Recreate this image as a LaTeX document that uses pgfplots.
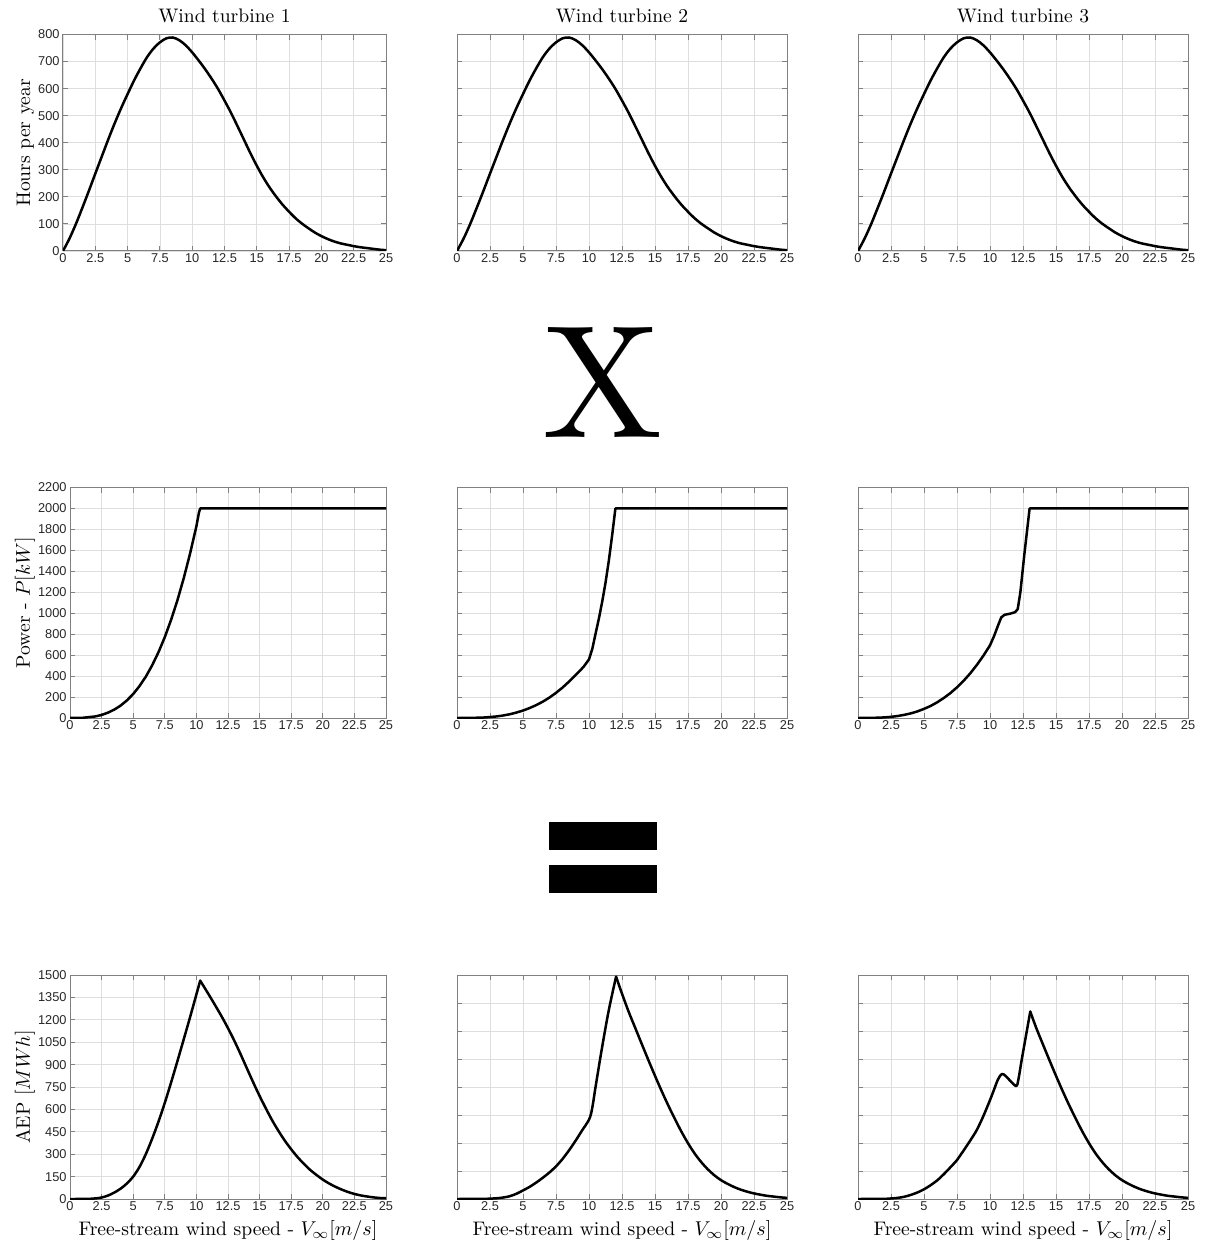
\documentclass[border=0pt]{standalone}
\usepackage{fontspec}
\usepackage{pgfplots}
\usepackage{pgfplotstable}
\pgfplotsset{compat=1.18}
\newfontfamily\tickfont{Liberation Sans}
\newfontfamily\bigfont{lmroman10-regular}[Extension=.otf]

% Hours per year at each free-stream wind speed (same site for all turbines)
\pgfplotstableread{
v h
0 0
0.5 46
1 100
1.5 160
2 222
2.5 286
3 349
3.5 412
4 472
4.5 528
5 580
5.5 630
6 675
6.5 716
7 748
7.5 771
8 786
8.5 789
9 779
9.5 760
10 734
10.5 704
11 672
11.5 637
12 599
12.5 556
13 511
13.5 462
14 412
14.5 362
15 315
15.5 272
16 234
16.5 201
17 171
17.5 145
18 121
18.5 101
19 84
19.5 68
20 55
20.5 44
21 35
21.5 28
22 23
22.5 18
23 14
23.5 11
24 8
24.5 5
25 3
}\hours

% Power curves [kW]
\pgfplotstableread{
v p
0 0
1 2
2 15
2.5 29
3 51
3.5 80
4 118
4.5 168
5 229
5.5 305
6 395
6.5 503
7 628
7.5 772
8 938
8.5 1124
9 1335
9.5 1570
10 1830
10.2 1960
10.3 2000
25 2000
}\powA
\pgfplotstableread{
v p
0 0
1 0.6
2 4.5
2.5 9
3 15
3.5 24
4 36
4.5 52
5 71
5.5 95
6 123
6.5 156
7 195
7.5 240
8 291
8.5 349
9 412
9.3 450
9.6 490
10 560
10.25 660
10.5 806
10.75 950
11 1110
11.25 1290
11.5 1500
11.75 1740
12 2000
25 2000
}\powB
\pgfplotstableread{
v p
0 0
1 0.7
2 5.6
2.5 11
3 19
3.5 30
4 44
4.5 63
5 87
5.5 115
6 150
6.5 191
7 238
7.5 293
8 355
8.5 426
9 506
9.5 595
10 694
10.3 780
10.6 880
10.85 960
11.1 985
11.5 995
11.9 1010
12.1 1040
12.3 1200
12.6 1560
13 2000
25 2000
}\powC

% Annual energy production [MWh], split at the rated-speed peak
\pgfplotstableread{
v e
0 0
1 0.3
1.5 1
2 4
2.5 10
3 23
3.5 43
4 69
4.5 104
5 150
5.5 215
6 301
6.5 404
7 518
7.5 644
8 781
8.5 924
9 1070
9.5 1218
10 1370
10.3 1462
}\aepAup
\pgfplotstableread{
v e
10.3 1462
10.5 1435
11 1366
11.5 1295
12 1222
12.5 1144
13 1060
13.5 969
14 874
14.5 780
15 690
15.5 606
16 526
16.5 455
17 390
17.5 333
18 281
18.5 236
19 195
19.5 161
20 130
20.5 104
21 82
21.5 63
22 47
22.5 34
23 24
23.5 17
24 11
24.5 7
25 5
}\aepAdown
\pgfplotstableread{
v e
0 0
2 1
2.5 2
3 4
3.5 8
4 15
4.5 28
5 46
5.5 65
6 88
6.5 114
7 142
7.5 175
8 215
8.5 262
9 314
9.25 342
9.5 370
9.75 396
10 425
10.15 455
10.3 510
10.5 602
11 816
11.5 1012
12.05 1191
}\aepBup
\pgfplotstableread{
v e
12.05 1191
12.5 1100
13 1004
13.5 917
14 830
14.5 744
15 660
15.5 579
16 502
16.5 430
17 361
17.5 299
18 244
18.5 198
19 159
19.5 127
20 101
20.5 81
21 64
21.5 50
22 39
22.5 30
23 23
23.5 17
24 13
24.5 9
25 6
}\aepBdown
\pgfplotstableread{
v e
0 0
2 1
2.5 3
3 6
3.5 12
4 22
4.5 35
5 52
5.5 74
6 100
6.5 133
7 170
7.5 209
8 260
8.5 313
9 370
9.5 445
10 530
10.3 585
10.6 640
10.9 670
11.2 658
11.6 628
12.0 605
12.15 640
12.4 745
12.7 865
13.05 1004
}\aepCup
\pgfplotstableread{
v e
13.05 1004
13.5 917
14 830
14.5 744
15 660
15.5 579
16 502
16.5 430
17 361
17.5 299
18 244
18.5 198
19 159
19.5 127
20 101
20.5 81
21 64
21.5 50
22 39
22.5 30
23 23
23.5 17
24 13
24.5 9
25 6
}\aepCdown

\pgfplotsset{
  turbine/.style={
    scale only axis,
    anchor=south west,
    xmin=0, xmax=25,
    xtick={0,2.5,5,7.5,10,12.5,15,17.5,20,22.5,25},
    xticklabels={0,2.5,5,7.5,10,12.5,15,17.5,20,22.5,25},
    grid=major,
    major grid style={black!13, line width=0.4pt},
    axis line style={black!50, line width=0.5pt},
    tick align=inside,
    major tick length=2.5pt,
    major tick style={black!50, line width=0.5pt},
    ticklabel style={font=\tickfont\fontsize{6.4}{7}\selectfont, text=black!85},
    xticklabel style={inner sep=1.2pt},
    yticklabel style={inner sep=1.5pt},
    /pgf/number format/assume math mode=true,
    /pgf/number format/1000 sep={},
    scaled y ticks=false,
    every axis title/.style={at={(0.5,1)}, anchor=base, yshift=6.25pt,
      font=\fontsize{9.8}{11}\selectfont},
    label style={font=\fontsize{9.8}{11}\selectfont},
    every axis plot/.append style={black, no markers, line width=1.25pt,
      line join=round, line cap=round},
  },
  rowA/.style={turbine, height=108.25pt, ymin=0, ymax=800, ytick={0,100,...,800}},
  rowB/.style={turbine, height=115.25pt, ymin=0, ymax=2200, ytick={0,200,...,2200}},
  rowC/.style={turbine, height=112pt, ymin=0},
  noy/.style={yticklabels={}},
  xlab/.style={xlabel={Free-stream wind speed - $V_\infty[m/s]$},
    xlabel style={at={(axis description cs:0.5,0)}, anchor=base, yshift=-18pt}},
}

\begin{document}
\begin{tikzpicture}
\path[use as bounding box] (0,0) rectangle (602.5pt,-623.5pt);

% Row 1: wind distribution
\begin{axis}[rowA, at={(31.5pt,-125.5pt)}, width=161.5pt, title={Wind turbine 1},
  ylabel={Hours per year}, ylabel style={at={(axis description cs:-0.102,0.5)}, anchor=base}]
\addplot[smooth] table[x=v,y=h] {\hours};
\end{axis}
\begin{axis}[rowA, noy, at={(228.5pt,-125.5pt)}, width=165pt, title={Wind turbine 2}]
\addplot[smooth] table[x=v,y=h] {\hours};
\end{axis}
\begin{axis}[rowA, noy, at={(429pt,-125.5pt)}, width=165pt, title={Wind turbine 3}]
\addplot[smooth] table[x=v,y=h] {\hours};
\end{axis}

\node[anchor=base, font=\bigfont\fontsize{80.5}{80}\selectfont, inner sep=0pt] at (301.25pt,-218.5pt) {X};

% Row 2: power curves
\begin{axis}[rowB, at={(35pt,-359pt)}, width=158pt,
  ylabel={Power - $P[kW]$}, ylabel style={at={(axis description cs:-0.1266,0.5)}, anchor=base}]
\addplot[sharp plot] table[x=v,y=p] {\powA};
\end{axis}
\begin{axis}[rowB, noy, at={(228.5pt,-359pt)}, width=165pt]
\addplot[sharp plot] table[x=v,y=p] {\powB};
\end{axis}
\begin{axis}[rowB, noy, at={(429pt,-359pt)}, width=165pt]
\addplot[sharp plot] table[x=v,y=p] {\powC};
\end{axis}

\fill[black] (274.5pt,-411pt) rectangle (328.5pt,-425pt);
\fill[black] (274.5pt,-432.5pt) rectangle (328.5pt,-446.5pt);

% Row 3: annual energy production
\begin{axis}[rowC, xlab, at={(35pt,-599.5pt)}, width=158pt, ymax=1500, ytick={0,150,...,1500},
  ylabel={AEP $[MWh]$}, ylabel style={at={(axis description cs:-0.1266,0.5)}, anchor=base}]
\addplot[smooth] table[x=v,y=e] {\aepAup};
\addplot[smooth] table[x=v,y=e] {\aepAdown};
\end{axis}
\begin{axis}[rowC, xlab, noy, at={(228.5pt,-599.5pt)}, width=165pt, ymax=1200, ytick={0,150,...,1200}]
\addplot[smooth] table[x=v,y=e] {\aepBup};
\addplot[smooth] table[x=v,y=e] {\aepBdown};
\end{axis}
\begin{axis}[rowC, xlab, noy, at={(429pt,-599.5pt)}, width=165pt, ymax=1200, ytick={0,150,...,1200}]
\addplot[smooth] table[x=v,y=e] {\aepCup};
\addplot[smooth] table[x=v,y=e] {\aepCdown};
\end{axis}
\end{tikzpicture}
\end{document}
